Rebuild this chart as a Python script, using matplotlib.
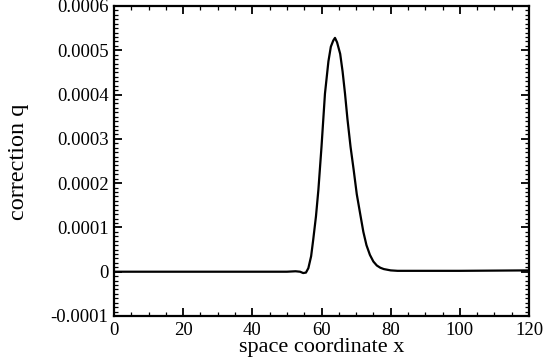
import matplotlib
matplotlib.use("Agg")
import matplotlib.pyplot as plt
from matplotlib.ticker import MultipleLocator, FuncFormatter

x_vals = [0, 20, 40, 50, 52.5, 53.8, 54.7, 55.5, 56.2, 57.0, 57.6, 58.4, 59.1, 60.0,
          61.0, 62.0, 62.7, 63.4, 63.9, 64.5, 65.4, 66.1, 66.8, 67.5, 68.4, 69.3,
          70.2, 71.2, 72.1, 73.0, 74.0, 75.0, 76.0, 77.0, 78.0, 80.0, 82.0, 90, 100, 120]
q_e4 = [0, 0, 0, 0, 0.01, 0.0, -0.03, -0.02, 0.08, 0.35, 0.72, 1.25, 1.85, 2.82,
        4.02, 4.75, 5.08, 5.22, 5.28, 5.18, 4.92, 4.52, 4.02, 3.45, 2.82, 2.3,
        1.75, 1.3, 0.9, 0.6, 0.38, 0.23, 0.14, 0.09, 0.06, 0.03, 0.02, 0.02, 0.02, 0.03]
q_vals = [v * 1e-4 for v in q_e4]

x_ticks = [0, 20, 40, 60, 80, 100, 120]
y_ticks = [-0.0001, 0, 0.0001, 0.0002, 0.0003, 0.0004, 0.0005, 0.0006]

plt.rcParams['font.family'] = ['Liberation Serif', 'DejaVu Serif']

fig = plt.figure(figsize=(5.46, 3.6), dpi=100)
ax = fig.add_axes([114/546, 1-316/360, 415/546, 310/360])

ax.plot(x_vals, q_vals, color='black', lw=1.6)
ax.set_xlim(0, 120)
ax.set_ylim(-0.0001, 0.0006)
ax.set_xticks(x_ticks)
ax.set_yticks(y_ticks)
ax.xaxis.set_minor_locator(MultipleLocator(5))
ax.yaxis.set_minor_locator(MultipleLocator(0.00001))

def yfmt(v, pos):
    if abs(v) < 1e-12:
        return "0"
    return ("%.4f" % v)
ax.yaxis.set_major_formatter(FuncFormatter(yfmt))

for s in ax.spines.values():
    s.set_linewidth(1.6)
ax.tick_params(which='both', direction='in', top=True, right=True, labelsize=13.5)
ax.tick_params(which='major', length=6, width=1.3)
ax.tick_params(which='minor', length=3, width=0.9)
ax.tick_params(axis='x', pad=4)
ax.tick_params(axis='y', pad=4)

ax.set_xlabel("space coordinate x", fontsize=16)
ax.xaxis.set_label_coords(0.5, -0.07)
fig.text(19/546, 1-162/360, "correction q", rotation=90, fontsize=17.5, ha='center', va='center')

fig.savefig("out.png", dpi=100)
